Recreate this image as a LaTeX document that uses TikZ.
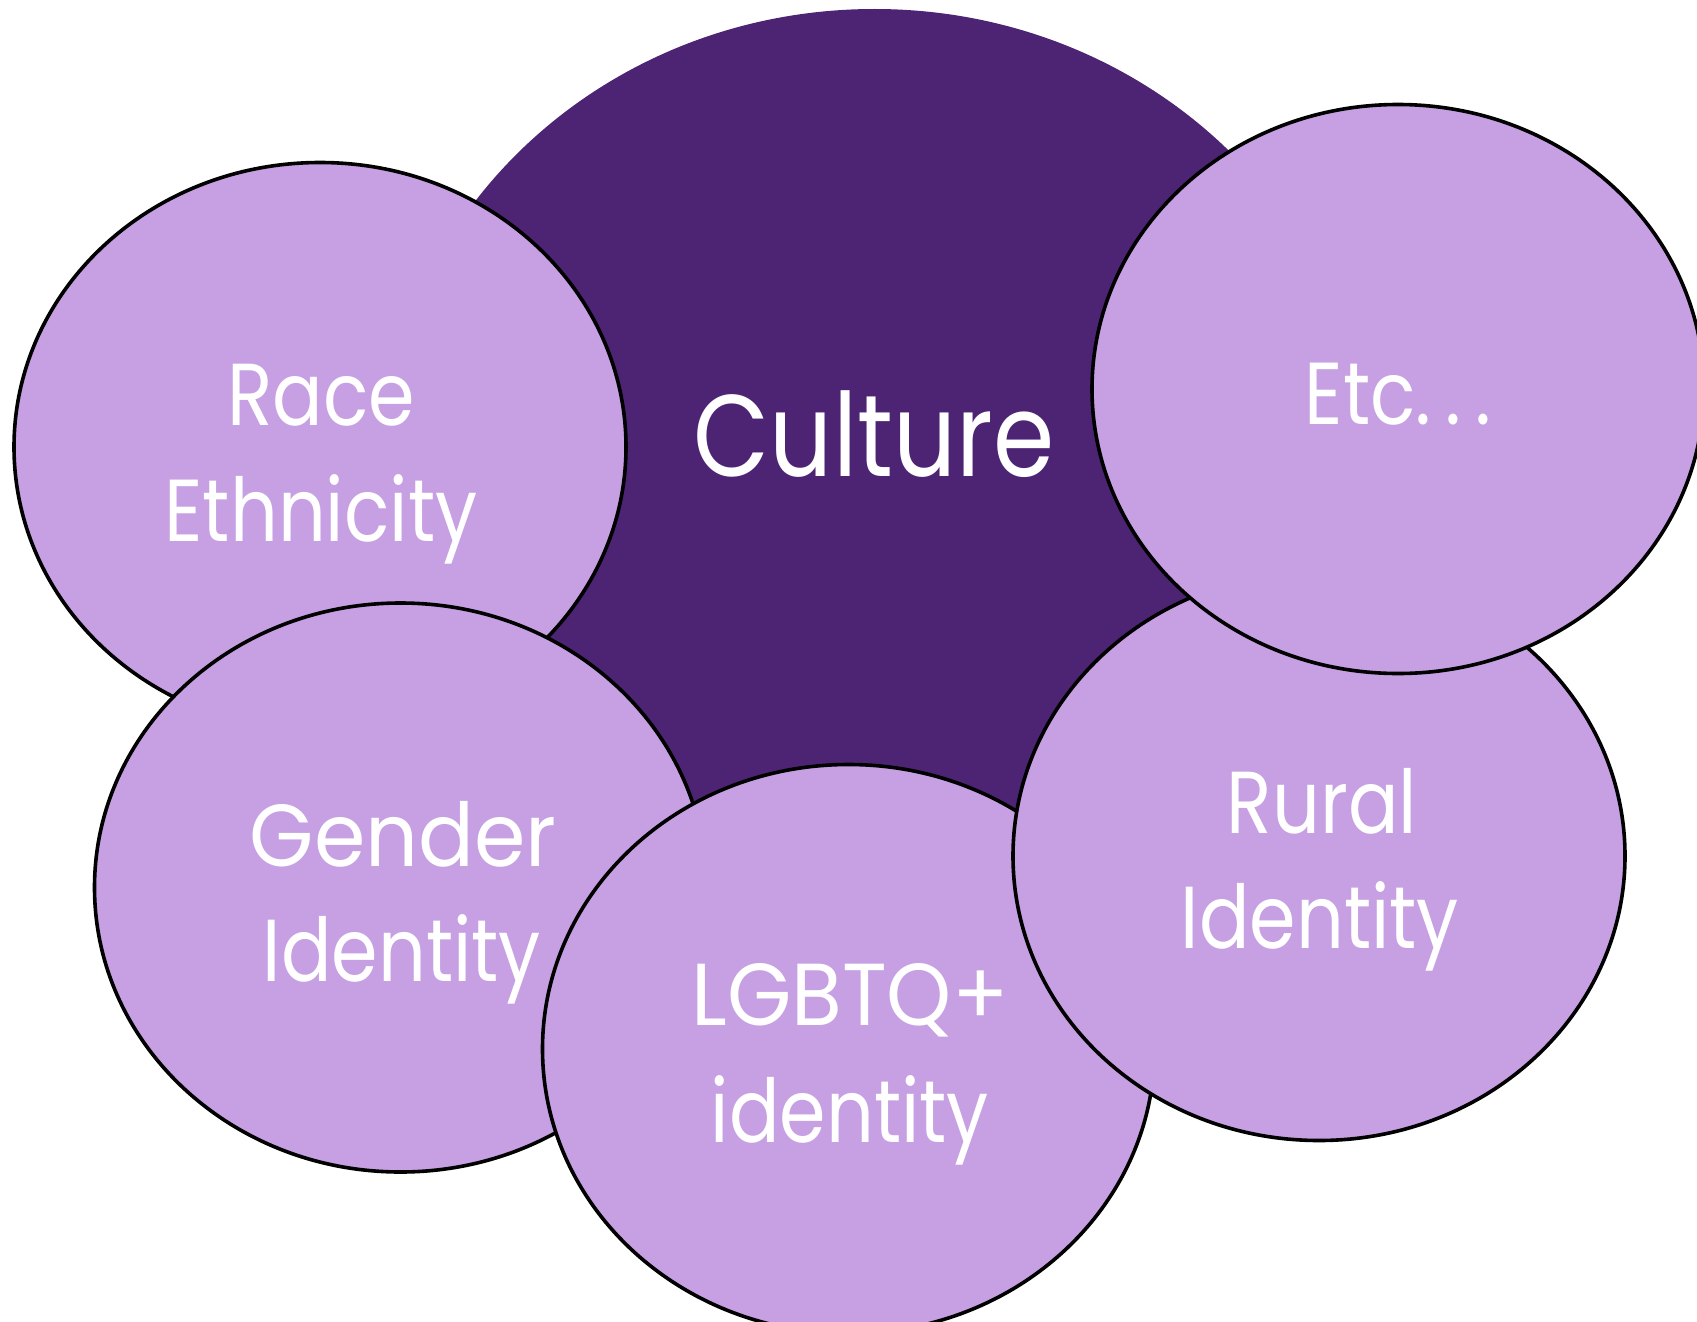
\documentclass[tikz,border=0pt]{standalone}
\usepackage{fontspec}
\setmainfont{Poppins}[FakeStretch=0.85]
\newfontfamily\widefont{Poppins}[FakeStretch=0.94]
\definecolor{darkpurple}{RGB}{77,36,115}
\definecolor{lightpurple}{RGB}{198,160,226}
\begin{document}
\begin{tikzpicture}[x=1pt,y=-1pt,
  blob/.style={fill=lightpurple,draw=black,line width=3.6pt},
  lbl/.style={text=white,anchor=base,inner sep=0pt,font=\fontsize{88}{100}\selectfont},
  widelbl/.style={text=white,anchor=base,inner sep=0pt,font=\widefont\fontsize{88}{100}\selectfont},
  biglbl/.style={text=white,anchor=base,inner sep=0pt,font=\fontsize{116}{130}\selectfont}]
\useasboundingbox (0,0) rectangle (1697,1322);
\clip (0,0) rectangle (1697,1322);
\fill[darkpurple] (874.5,474) ellipse (493 and 465);
\draw[blob] (320,447) ellipse (306 and 284.5);
\draw[blob] (400.5,887.5) ellipse (306 and 284.5);
\draw[blob] (848.5,1049) ellipse (306 and 284.5);
\draw[blob] (1319,856) ellipse (306 and 284.5);
\draw[blob] (1398,389) ellipse (306 and 284.5);
\node[biglbl] (culture) at (874,476) {Culture};
\node[lbl] (race) at (321,425) {Race};
\node[lbl] (ethnicity) at (321,541) {Ethnicity};
\node[lbl] (etc) at (1398,424) {Etc.\kern14pt.\kern14pt.};
\node[widelbl] (gender) at (403,866) {Gender};
\node[lbl] (genderid) at (402,981) {Identity};
\node[widelbl] (lgbtq) at (850,1025) {LGBTQ+};
\node[lbl] (lgbtqid) at (850,1142) {identity};
\node[lbl] (rural) at (1322,833) {Rural};
\node[lbl] (ruralid) at (1320,948) {Identity};
\end{tikzpicture}
\end{document}
